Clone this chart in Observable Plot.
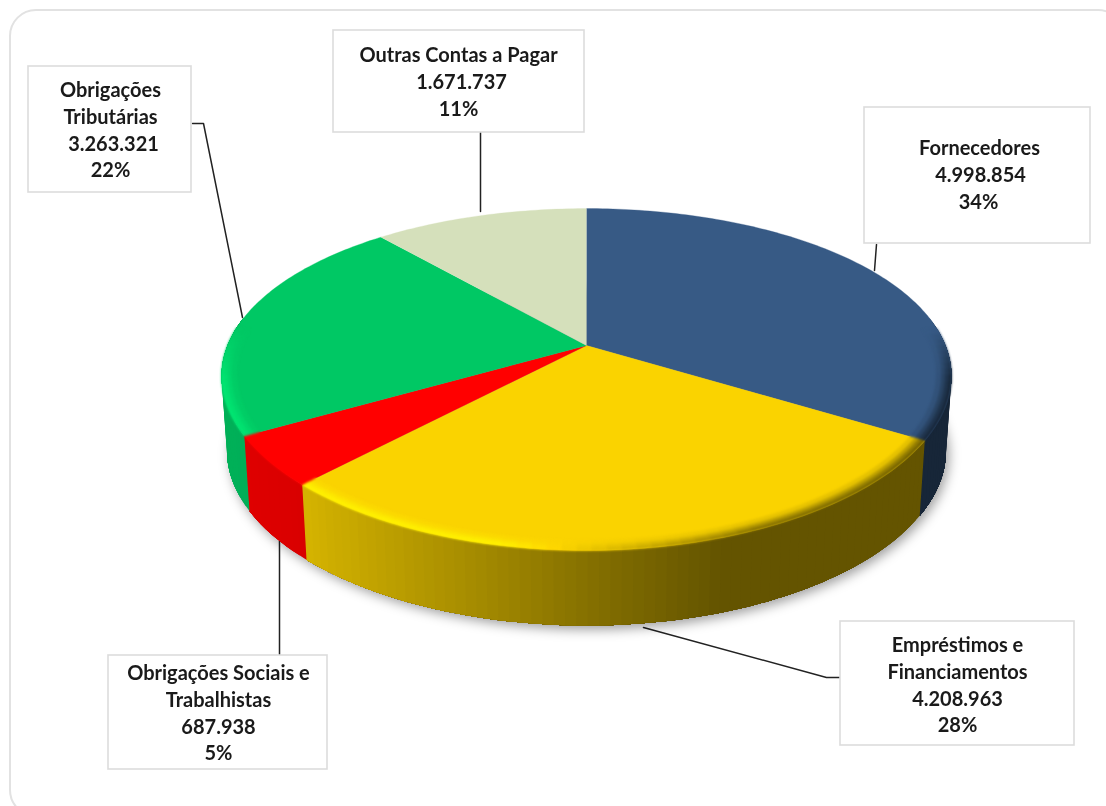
<!DOCTYPE html>
<html><head><meta charset="utf-8">
<script src="https://cdn.jsdelivr.net/npm/d3@7"></script>
<script src="https://cdn.jsdelivr.net/npm/@observablehq/plot@0.6"></script>
<style>
html,body{margin:0;padding:0;background:#fff;overflow:hidden}
svg{display:block;background:#fff}
.pie-shadow{filter:blur(6px)}
.pie-body{filter:blur(.5px)}
.pie-rim{filter:blur(1.1px)}
.soft{filter:blur(.4px)}
</style></head><body><script>
// Data
const categories = ["Fornecedores","Empréstimos e Financiamentos","Obrigações Sociais e Trabalhistas","Obrigações Tributárias","Outras Contas a Pagar"];
const values = [4998854,4208963,687938,3263321,1671737];
const percents = [34,28,5,22,11];
const topColors = ["#375a85","#fad300","#ff0000","#00c864","#d5e0bb"];
const nameLines = [["Fornecedores"],["Empréstimos e","Financiamentos"],["Obrigações Sociais e","Trabalhistas"],["Obrigações","Tributárias"],["Outras Contas a Pagar"]];

// Layout
const W=1106,H=806;
const boxes=[[864,107,1090,243],[840,621,1074,745],[108,655,327,769],[28,66,191,192],[333,30,584,132]];
const firstLineY=[148,645,673,90,55];
const lineCentre=[[979,980,978],[957,957,957,957],[218,218,218,218],[110,110,113,110],[458,461,458]];
const leaders=[[[876,244],[874,270]],[[643,627],[826,677],[840,677]],[[279,541],[279,655]],[[192,123],[203,123],[242,317]],[[480,132],[480,211]]];
const frame={x1:10,y1:10,x2:1124,y2:816,r:26};

// Perspective projection of the pie disc
const cx=586,cy=345,kx=0.18,ky=0.199,a=359,b=164.2;
function project(deg,r=1){const t=deg*Math.PI/180,u=Math.sin(t)*r,v=-Math.cos(t)*r;return [cx+a*u/(1-kx*v),cy+b*v/(1-ky*v)];}
function projectBottom(deg){const [x,y]=project(deg);return [cx+(x-cx)*0.985,420+(y-cy)];}
const total=d3.sum(values);
const cum=d3.cumsum(values).map(v=>v/total*360);
const spans=values.map((_,i)=>[i?cum[i-1]:0,cum[i]]);

const wallShade=d3.scaleLinear([228,303,400,500,600,720,1000],[.88,.85,.74,.63,.52,.4,.4]).clamp(true);
const edgeShade=d3.scaleLinear([228,500,620,760,950],[1.15,1.15,.85,.5,.42]).clamp(true);
const scale=(c,f)=>{const q=d3.rgb(c);return d3.rgb(Math.min(255,q.r*f),Math.min(255,q.g*f),Math.min(255,q.b*f)).formatRgb();};

function steps(s,e,st){const o=[];for(let t=s;t<e-1e-6;t+=st)o.push([t,Math.min(e,t+st)]);return o;}
const faceRows=[],wallRows=[],rimRows=[];
let id=0;
spans.forEach(([s,e],i)=>{
  const c=topColors[i];
  const poly=[[cx,cy]];
  for(const [t] of steps(s,e,1))poly.push(project(t));
  poly.push(project(e));
  const g=id++;
  poly.forEach(p=>faceRows.push({x:p[0],y:p[1],g,c}));
});
// walls: solid colour bands, each overlapping the next so no seam shows
spans.forEach(([s,e],i)=>{
  const a0=Math.max(s,80),a1=Math.min(e,280);
  if(a1<=a0)return;
  const band=steps(a0,a1,1.5).map(st=>{
    const mid=project((st[0]+st[1])/2)[0];
    return {st,c:scale(topColors[i],wallShade(mid)*(i===0?1.05:1))};
  });
  band.forEach(({st:[t0,t1],c},j)=>{
    const g=id++;
    // every band runs on to the end of its slice; the later bands paint over it
    const end=a1;
    const pts=[project(t0)];
    for(let t=t0;t<end;t+=1.5)pts.push(project(Math.min(t+1.5,end)));
    for(let t=end;t>t0;t-=1.5)pts.push(projectBottom(t));
    pts.push(projectBottom(t0));
    pts.forEach(p=>wallRows.push({x:p[0],y:p[1],g,c}));
  });
});
// rounded rim
const rimR=[1,.992,.982,.972,.96];
const rimT=[0,.25,.55,.85];
spans.forEach(([s,e],i)=>{
  const top=topColors[i];
  for(const [t0,t1] of steps(s,e,2)){
    const m=(t0+t1)/2,[mx]=project(m),vp=-Math.cos(m*Math.PI/180);
    const w=Math.max(0,Math.min(1,(vp+.1)/.3));
    if(w===0)continue;
    const edge=scale(top,edgeShade(mx));
    rimT.forEach((q,j)=>{
      const c=d3.interpolateRgb(edge,top)(1-(1-q)*w);
      const g=id++;
      [project(t0,rimR[j]),project(t1,rimR[j]),project(t1,rimR[j+1]),project(t0,rimR[j+1])].forEach(p=>rimRows.push({x:p[0],y:p[1],g,c}));
    });
  }
});
const shadowRows=steps(0,360,3).map(([t])=>{const [x,y]=projectBottom(t);return {x:x+3,y:y+4};});

// Labels
const fmt=v=>d3.format(",")(v).replace(/,/g,".");
const textRows=[];
categories.forEach((cat,i)=>{
  const lines=[...nameLines[i],fmt(values[i]),percents[i]+"%"];
  lines.forEach((t,j)=>textRows.push({t,x:lineCentre[i][j],y:firstLineY[i]+j*26.8}));
});
const boxRows=boxes.map(([x1,y1,x2,y2])=>({x1,y1,x2,y2}));
const leaderRows=leaders.flatMap((l,g)=>l.map(p=>({x:p[0],y:p[1],g})));

const chart=Plot.plot({
  width:W,height:H,margin:0,
  x:{domain:[0,W],range:[0,W],axis:null},
  y:{domain:[0,H],range:[0,H],axis:null},
  color:{type:"identity"},
  marks:[
    Plot.rect([frame],{x1:"x1",y1:"y1",x2:"x2",y2:"y2",rx:frame.r,fill:"white",stroke:"#e2e2e2",strokeWidth:2}),
    Plot.line(leaderRows,{x:"x",y:"y",z:"g",stroke:"#222",strokeWidth:1.5,className:"soft"}),
    Plot.line(shadowRows,{x:"x",y:"y",fill:"#000",fillOpacity:.38,stroke:"none",className:"pie-shadow"}),
    Plot.line(wallRows,{x:"x",y:"y",z:"g",fill:"c",stroke:"none",className:"pie-body"}),
    Plot.line(faceRows,{x:"x",y:"y",z:"g",fill:"c",stroke:"c",strokeWidth:.3,className:"pie-body"}),
    Plot.line(rimRows,{x:"x",y:"y",z:"g",fill:"c",stroke:"c",strokeWidth:.7,className:"pie-rim"}),
    Plot.rect(boxRows,{x1:"x1",y1:"y1",x2:"x2",y2:"y2",fill:"white",stroke:"#dcdcdc",strokeWidth:1.6}),
    Plot.text(textRows,{x:"x",y:"y",text:"t",fontFamily:"Lato",fontWeight:700,fontSize:20,fill:"#1a1a1a",className:"soft"})
  ]
});
document.body.appendChild(chart);
</script></body></html>
